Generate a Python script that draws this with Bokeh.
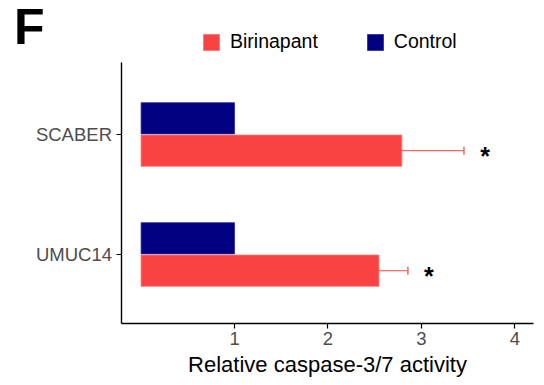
from bokeh.plotting import figure
from bokeh.models import ColumnDataSource, Whisker, TeeHead, Legend, LegendItem, Label, FixedTicker, Range1d
from bokeh.transform import dodge
from bokeh.core.properties import value
from bokeh.embed import file_html
from bokeh.resources import INLINE

cell_lines = ["UMUC14", "SCABER"]
control = [1.0, 1.0]
birinapant = [2.545, 2.79]
birinapant_err = [0.31, 0.665]
star_x = [3.08, 3.68]
x_ticks = [1, 2, 3, 4]

FONT = "Liberation Sans"
RED = "#F94343"
NAVY = "#000080"
ERR = "#F66464"

ypos = list(range(len(cell_lines)))

p = figure(width=540, height=381, output_backend="svg", toolbar_location=None,
           x_range=Range1d(-1.5046, 4.274), y_range=Range1d(-1.0583, 2.1167),
           min_border=0, min_border_left=0, min_border_right=0,
           min_border_top=0, min_border_bottom=0)

src = ColumnDataSource(dict(y=ypos, control=control, bir=birinapant,
                            upper=[b + e for b, e in zip(birinapant, birinapant_err)],
                            star=star_x))

r_ctrl = p.hbar(y=dodge("y", 0.135), right="control", left=0, height=0.26,
                source=src, fill_color=NAVY, line_color="#2A2A98", line_width=0.8)
r_bir = p.hbar(y=dodge("y", -0.135), right="bir", left=0, height=0.26,
               source=src, fill_color=RED, line_color="#FB7070", line_width=0.8)

w = Whisker(source=src, base=dodge("y", -0.135), lower="bir", upper="upper",
            dimension="width", line_color=ERR, line_width=1.2,
            upper_head=TeeHead(size=8, line_color=ERR, line_width=1.5), lower_head=None)
p.add_layout(w)

p.text(x="star", y=dodge("y", -0.175), text=value("*"), source=src,
       text_font=value(FONT), text_font_size="25px", text_font_style="bold",
       text_align="center", text_baseline="alphabetic", text_color="black")

p.grid.visible = False
p.outline_line_color = None
p.background_fill_color = "white"
p.border_fill_color = "white"

# axes drawn at fixed positions inside the frame
p.yaxis.fixed_location = -0.2151
p.yaxis.bounds = (-0.579, 1.6)
p.xaxis.fixed_location = -0.579
p.xaxis.bounds = (-0.2151, 4.199)

p.xaxis.ticker = FixedTicker(ticks=x_ticks)
p.yaxis.ticker = FixedTicker(ticks=ypos)
p.yaxis.major_label_overrides = {i: name for i, name in enumerate(cell_lines)}

p.xaxis.axis_label = "Relative caspase-3/7 activity"
p.xaxis.axis_label_text_font = FONT
p.xaxis.axis_label_text_font_size = "22px"
p.xaxis.axis_label_text_font_style = "normal"
p.xaxis.axis_label_text_color = "black"
p.xaxis.axis_label_standoff = 4
for ax in (p.xaxis, p.yaxis):
    ax.axis_line_color = "black"
    ax.axis_line_width = 1.4
    ax.major_tick_line_color = "black"
    ax.major_tick_line_width = 1.2
    ax.major_tick_out = 5
    ax.major_tick_in = 0
    ax.minor_tick_line_color = None
    ax.major_label_text_font = FONT
    ax.major_label_text_font_size = "18.5px"
    ax.major_label_text_color = "#4D4D4D"
p.xaxis.major_label_standoff = 3
p.yaxis.major_label_standoff = 4

legend = Legend(items=[LegendItem(label="Birinapant", renderers=[r_bir]),
                       LegendItem(label="Control", renderers=[r_ctrl])],
                orientation="horizontal", location=(201, 328),
                label_text_font=FONT, label_text_font_size="19.5px", label_text_color="black",
                glyph_width=20, glyph_height=20, label_height=20, spacing=47, label_standoff=9,
                border_line_color=None, background_fill_alpha=0, padding=0, margin=0)
p.add_layout(legend)

lab = Label(x=13.5, y=355, x_units="screen", y_units="screen", text="F",
            text_font=FONT, text_font_size="50px", text_font_style="bold",
            text_color="black", text_baseline="alphabetic")
p.add_layout(lab)

open("out.html", "w").write(file_html(p, INLINE))
